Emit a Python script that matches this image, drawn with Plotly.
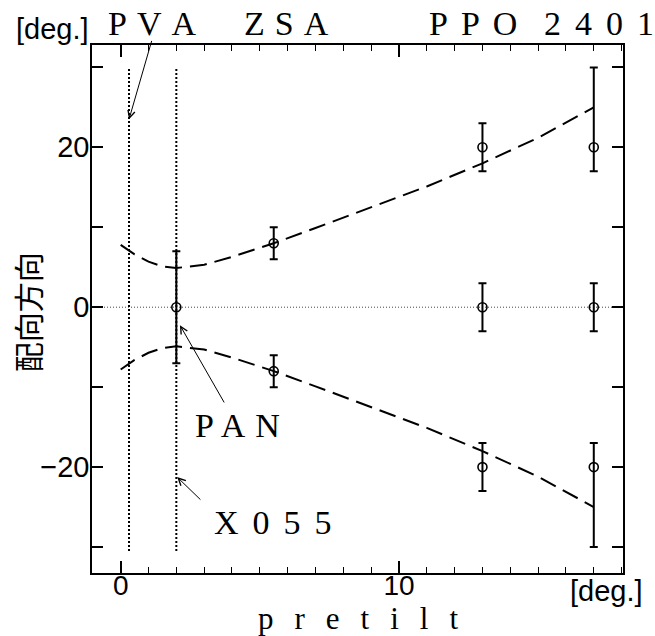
import plotly.graph_objects as go

# ---------------- data ----------------
# fitted (dashed) curves
curve_x = [0, 0.5, 1, 1.5, 2, 3, 4, 5.5, 7, 9, 11, 13, 15, 17]
curve_upper = [7.8, 6.6, 5.7, 5.1, 4.9, 5.3, 6.3, 8.0, 9.9, 12.5, 15.1, 18.0, 21.2, 25.0]
curve_lower = [-7.8, -6.6, -5.7, -5.1, -4.9, -5.3, -6.3, -8.0, -9.9, -12.5, -15.1, -18.0, -21.2, -25.0]

# measured points with error bars
upper_x = [5.5, 13, 17]
upper_y = [8, 20, 20]
upper_err_plus = [2, 3, 10]
upper_err_minus = [2, 3, 3]

mid_x = [2, 13, 17]
mid_y = [0, 0, 0]
mid_err = [7, 3, 3]

lower_x = [5.5, 13, 17]
lower_y = [-8, -20, -20]
lower_err_plus = [2, 3, 3]
lower_err_minus = [2, 3, 10]

# reference (dotted) vertical lines: PVA and X055
ref_x = [0.3, 2.0]
ref_y_span = [-30.5, 30]

x_range = [-1.03, 18.05]
y_range = [-33.25, 32.8]
y_tickvals = [-30, -20, -10, 0, 10, 20, 30]
y_ticktext = ["", "\u221220", "", "0", "", "20", ""]

SANS = "Liberation Sans, Arial, Helvetica, sans-serif"
SERIF = "Liberation Serif, Times New Roman, serif"
CJK = "Noto Sans CJK JP, Noto Sans CJK SC, sans-serif"

fig = go.Figure()

# dashed curves
for cy in (curve_upper, curve_lower):
    fig.add_trace(go.Scatter(
        x=curve_x, y=cy, mode="lines",
        line=dict(color="black", width=2, dash="17px,8px"),
        hoverinfo="skip"))

err_style = dict(color="black", thickness=2, width=4)
marker_style = dict(symbol="circle-open", size=9, color="black", line=dict(width=1.6, color="black"))

fig.add_trace(go.Scatter(
    x=upper_x, y=upper_y, mode="markers", marker=marker_style,
    error_y=dict(type="data", symmetric=False, array=upper_err_plus,
                 arrayminus=upper_err_minus, **err_style)))
fig.add_trace(go.Scatter(
    x=mid_x, y=mid_y, mode="markers", marker=marker_style,
    error_y=dict(type="data", array=mid_err, **err_style)))
fig.add_trace(go.Scatter(
    x=lower_x, y=lower_y, mode="markers", marker=marker_style,
    error_y=dict(type="data", symmetric=False, array=lower_err_plus,
                 arrayminus=lower_err_minus, **err_style)))

# zero dotted line
fig.add_hline(y=0, line=dict(color="#444", width=1, dash="1px,2px"), layer="below")

# dotted vertical reference lines
for rx in ref_x:
    fig.add_shape(type="line", x0=rx, x1=rx, y0=ref_y_span[0], y1=ref_y_span[1],
                  xref="x", yref="y", line=dict(color="black", width=2, dash="2px,2px"))

axis_common = dict(showline=True, linecolor="black", linewidth=1.5, mirror="ticks",
                   showgrid=False, zeroline=False, ticks="inside", tickcolor="black",
                   tickwidth=1.5, tickfont=dict(family=SANS, size=29, color="black"))

fig.update_xaxes(range=x_range, tick0=0, dtick=10, ticklen=12,
                 minor=dict(tick0=0, dtick=1, ticks="inside", ticklen=6, tickcolor="black", tickwidth=1.2),
                 ticklabelstandoff=-13, **axis_common)
fig.update_xaxes(tickfont=dict(family=SANS, size=28, color="black"))
fig.update_yaxes(range=y_range, tickmode="array", tickvals=y_tickvals, ticktext=y_ticktext,
                 ticklen=11, ticklabelstandoff=-5, **axis_common)


def spaced(text, ls, tail=""):
    return '<span style="letter-spacing:%dpx">%s</span>%s' % (ls, text, tail)


def px_to_paper_x(px):
    return (px - 92) / 531.0


def py_to_paper_y(py):
    return (573 - py) / 528.3


annotations = []
# top serif labels
for txt, left_px in [(spaced("PV", 10, "A"), 107), (spaced("ZS", 10, "A"), 243),
                     (spaced("PP", 13, "O"), 428), (spaced("240", 14, "1"), 543)]:
    annotations.append(dict(text=txt, x=px_to_paper_x(left_px), y=py_to_paper_y(23.5),
                            xref="paper", yref="paper", xanchor="left", yanchor="middle",
                            borderpad=0, showarrow=False, font=dict(family=SERIF, size=34, color="black")))

# unit labels
annotations.append(dict(text="[deg.]", x=0, xshift=-1, y=py_to_paper_y(29), xref="paper", yref="paper",
                        xanchor="right", yanchor="middle", showarrow=False,
                        font=dict(family=SANS, size=29, color="black")))
annotations.append(dict(text="[deg.]", x=px_to_paper_x(606), y=py_to_paper_y(591), xref="paper", yref="paper",
                        xanchor="center", yanchor="middle", showarrow=False,
                        font=dict(family=SANS, size=29, color="black")))

# axis titles
annotations.append(dict(text=spaced("pretil", 21, "t"), x=px_to_paper_x(257), y=py_to_paper_y(618.5),
                        xref="paper", yref="paper", xanchor="left", yanchor="middle", showarrow=False,
                        borderpad=0, font=dict(family=SERIF, size=31, color="black")))
annotations.append(dict(text="配向方向", x=px_to_paper_x(27), y=py_to_paper_y(312), textangle=-90,
                        xref="paper", yref="paper", xanchor="center", yanchor="middle", showarrow=False,
                        font=dict(family=CJK, size=30, color="black")))

# in-plot labels
annotations.append(dict(text=spaced("PA", 10, "N"), x=2.6, y=-14.8, xref="x", yref="y",
                        xanchor="left", yanchor="middle", showarrow=False,
                        font=dict(family=SERIF, size=34, color="black")))
annotations.append(dict(text=spaced("X05", 14, "5"), x=3.28, y=-26.9, xref="x", yref="y",
                        xanchor="left", yanchor="middle", showarrow=False,
                        font=dict(family=SERIF, size=34, color="black")))

# arrows (tip -> tail in data coordinates)
for tip, tail in [((0.30, 23.5), (1.13, 33.5)), ((2.13, -2.25), (3.75, -12.1)), ((2.03, -21.25), (2.92, -24.25))]:
    annotations.append(dict(text="", x=tip[0], y=tip[1], ax=tail[0], ay=tail[1],
                            xref="x", yref="y", axref="x", ayref="y", showarrow=True,
                            arrowhead=5, arrowsize=1.4, arrowwidth=1, arrowcolor="black", standoff=0))

fig.update_layout(width=655, height=636, margin=dict(l=92, r=32, t=45, b=63),
                  paper_bgcolor="white", plot_bgcolor="white", showlegend=False,
                  annotations=annotations)

fig.write_html("out.html")
